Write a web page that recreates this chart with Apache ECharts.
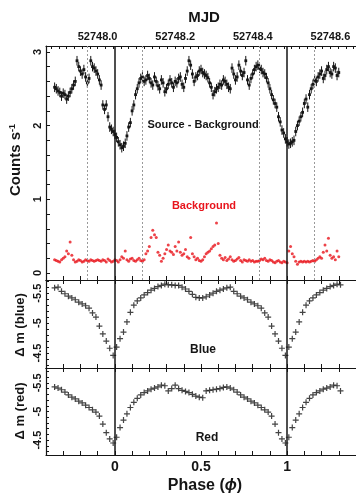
<!DOCTYPE html>
<html>
<head>
<meta charset="utf-8">
<script src="https://cdn.jsdelivr.net/npm/echarts@6/dist/echarts.min.js"></script>
<style>
html, body { margin: 0; padding: 0; background: #fff; }
#chart { width: 356px; height: 493px; }
</style>
</head>
<body>
<div id="chart"></div>
<script>
// source - background and background count rates, one bin every 0.01 in phase
const srcStart = -0.35;
const srcStep = 0.01;
const srcCounts = [
    2.52, 2.50, 2.47, 2.45, 2.40, 2.44, 2.42, 2.36, 2.40, 2.45,
    2.50, 2.55, 2.60, 2.88, 2.80, 2.74, 2.70, 2.76, 2.66, 2.58,
    2.64, 2.88, 2.80, 2.78, 2.74, 2.70, 2.62, 2.55, 2.28, 2.22,
    2.28, 2.12, 1.98, 1.95, 1.92, 1.88, 1.84, 1.78, 1.74, 1.70,
    1.72, 1.76, 1.86, 1.98, 2.04, 2.20, 2.28, 2.42, 2.50, 2.58,
    2.64, 2.66, 2.60, 2.62, 2.68, 2.64, 2.58, 2.55, 2.66, 2.60,
    2.54, 2.50, 2.62, 2.58, 2.46, 2.50, 2.56, 2.62, 2.58, 2.52,
    2.60, 2.58, 2.64, 2.66, 2.56, 2.52, 2.64, 2.74, 2.88, 2.82,
    2.70, 2.60, 2.66, 2.68, 2.74, 2.76, 2.72, 2.70, 2.68, 2.65,
    2.58, 2.52, 2.42, 2.46, 2.50, 2.52, 2.56, 2.55, 2.62, 2.60,
    2.56, 2.52, 2.50, 2.78, 2.70, 2.62, 2.66, 2.82, 2.74, 2.68,
    2.72, 2.88, 2.62, 2.55, 2.64, 2.70, 2.76, 2.80, 2.82, 2.78,
    2.76, 2.72, 2.70, 2.65, 2.58, 2.50, 2.42, 2.35, 2.30, 2.25,
    2.12, 2.05, 1.94, 1.90, 1.82, 1.78, 1.75, 1.76, 1.78, 1.80,
    1.92, 2.00, 2.06, 2.12, 2.18, 2.30, 2.36, 2.25, 2.42, 2.50,
    2.56, 2.62, 2.60, 2.66, 2.70, 2.74, 2.64, 2.68, 2.76, 2.80,
    2.72, 2.70, 2.80, 2.78, 2.68, 2.72
];
const srcErr = 0.065;
const bkgCounts = [
    0.18, 0.17, 0.16, 0.15, 0.18, 0.20, 0.22, 0.30, 0.26, 0.42,
    0.24, 0.18, 0.15, 0.16, 0.18, 0.17, 0.15, 0.16, 0.18, 0.17,
    0.16, 0.18, 0.17, 0.16, 0.17, 0.18, 0.17, 0.16, 0.18, 0.17,
    0.15, 0.19, 0.17, 0.15, 0.16, 0.18, 0.17, 0.15, 0.18, 0.22,
    0.20, 0.30, 0.18, 0.16, 0.19, 0.20, 0.17, 0.16, 0.18, 0.20,
    0.17, 0.16, 0.18, 0.26, 0.30, 0.36, 0.48, 0.58, 0.52, 0.48,
    0.28, 0.24, 0.16, 0.20, 0.26, 0.32, 0.38, 0.30, 0.28, 0.25,
    0.36, 0.30, 0.42, 0.28, 0.24, 0.26, 0.32, 0.22, 0.20, 0.48,
    0.26, 0.22, 0.18, 0.20, 0.17, 0.16, 0.18, 0.22, 0.26, 0.28,
    0.30, 0.33, 0.36, 0.38, 0.68, 0.40, 0.24, 0.20, 0.18, 0.21,
    0.17, 0.19, 0.22, 0.18, 0.16, 0.17, 0.19, 0.21, 0.17, 0.15,
    0.18, 0.17, 0.16, 0.18, 0.16, 0.17, 0.15, 0.16, 0.16, 0.17,
    0.19, 0.18, 0.20, 0.17, 0.16, 0.18, 0.17, 0.15, 0.14, 0.16,
    0.17, 0.15, 0.14, 0.16, 0.15, 0.14, 0.30, 0.36, 0.26, 0.22,
    0.16, 0.12, 0.15, 0.16, 0.15, 0.16, 0.15, 0.16, 0.15, 0.16,
    0.17, 0.16, 0.18, 0.20, 0.22, 0.20, 0.28, 0.38, 0.30, 0.47,
    0.24, 0.20, 0.22, 0.18, 0.30, 0.22
];

// folded optical light curves, phase 0.01 .. 0.99 every 0.02 (shown twice)
const foldStart = 0.01;
const foldStep = 0.02;
const blueMag = [
    -4.60, -4.74, -4.85, -5.02, -5.18, -5.30, -5.37, -5.42, -5.47, -5.51,
    -5.55, -5.58, -5.61, -5.63, -5.65, -5.64, -5.64, -5.63, -5.63, -5.60,
    -5.57, -5.53, -5.48, -5.43, -5.42, -5.42, -5.44, -5.47, -5.50, -5.53,
    -5.55, -5.57, -5.59, -5.60, -5.53, -5.49, -5.45, -5.42, -5.39, -5.35,
    -5.32, -5.29, -5.25, -5.17, -5.10, -4.95, -4.82, -4.70, -4.58, -4.46
];
const redMag = [
    -4.55, -4.72, -4.85, -4.96, -5.07, -5.16, -5.23, -5.29, -5.33, -5.36,
    -5.39, -5.41, -5.43, -5.46, -5.45, -5.36, -5.40, -5.46, -5.40, -5.37,
    -5.35, -5.33, -5.30, -5.27, -5.25, -5.24, -5.36, -5.37, -5.38, -5.39,
    -5.40, -5.42, -5.43, -5.41, -5.38, -5.34, -5.29, -5.25, -5.22, -5.18,
    -5.15, -5.11, -5.07, -5.03, -4.99, -4.92, -4.78, -4.63, -4.52, -4.45
];

// ticks and reference lines
const phaseLabels = [0, 0.5, 1];
const mjdLabels = [52748.0, 52748.2, 52748.4, 52748.6];
const countLabels = [0, 1, 2, 3];
const magLabels = [-5.5, -5, -4.5];
const eclipsePhases = [0, 1];
const dashPhases = [-0.16, 0.16, 0.84, 1.16];

const FONT = '"Liberation Sans", Arial, sans-serif';
const INK = '#151515';

function range(a, b, step) {
    const out = [];
    for (let v = a; v <= b + 1e-9; v += step) {
        out.push(Math.round(v * 1000) / 1000);
    }
    return out;
}

function fold(mags) {
    const pts = [];
    [-1, 0, 1].forEach(k => {
        mags.forEach((m, i) => {
            const p = foldStart + i * foldStep + k;
            if (p >= -0.35 && p <= 1.31) {
                pts.push([p, m]);
            }
        });
    });
    return pts;
}

function phaseAxis(gridIndex, position, withLabels) {
    return {
        type: 'value',
        gridIndex: gridIndex,
        position: position,
        min: -0.4,
        max: 1.4,
        interval: 0.1,
        splitLine: { show: false },
        axisLine: { onZero: false, lineStyle: { color: INK, width: 1.2 } },
        axisTick: { inside: true, length: 4, lineStyle: { color: INK } },
        axisLabel: {
            show: withLabels,
            customValues: phaseLabels,
            margin: 5,
            color: INK,
            fontFamily: FONT,
            fontWeight: 'bold',
            fontSize: 14,
            formatter: v => String(Math.round(v * 10) / 10)
        }
    };
}

function magAxis(gridIndex, min, max) {
    return {
        type: 'value',
        gridIndex: gridIndex,
        inverse: true,
        min: min,
        max: max,
        splitLine: { show: false },
        axisLine: { onZero: false, lineStyle: { color: INK, width: 1.2 } },
        axisTick: { inside: true, length: 3, customValues: range(-5.7, -4.3, 0.1), lineStyle: { color: INK } },
        axisLabel: {
            customValues: magLabels,
            rotate: 90,
            margin: 3,
            color: INK,
            fontFamily: FONT,
            fontWeight: 'bold',
            fontSize: 11,
            formatter: v => String(v)
        }
    };
}

const plusPath = 'path://M-0.8,-4H0.8V-0.8H4V0.8H0.8V4H-0.8V0.8H-4V-0.8H-0.8Z';

function vLines(values, style) {
    return values.map(v => ({ xAxis: v, lineStyle: style }));
}

const solidStyle = { color: INK, width: 1.5, type: 'solid' };
const dashStyle = { color: '#999', width: 1, type: [2, 2] };

const myChart = echarts.init(document.getElementById('chart'));

const option = {
    animation: false,
    grid: [
        { left: 46, top: 46, width: 316, height: 234 },
        { left: 46, top: 280, width: 316, height: 88 },
        { left: 46, top: 368, width: 316, height: 87 }
    ],
    xAxis: [
        phaseAxis(0, 'bottom', false),
        {
            type: 'value',
            gridIndex: 0,
            position: 'top',
            min: 52747.867,
            max: 52748.666,
            splitLine: { show: false },
            axisLine: { onZero: false, lineStyle: { color: INK, width: 1.2 } },
            axisTick: { inside: true, length: 3, customValues: range(52747.88, 52748.66, 0.02), lineStyle: { color: INK } },
            axisLabel: {
                customValues: mjdLabels,
                margin: 4,
                color: INK,
                fontFamily: FONT,
                fontWeight: 'bold',
                fontSize: 11,
                formatter: v => v.toFixed(1)
            }
        },
        phaseAxis(1, 'bottom', false),
        phaseAxis(1, 'top', false),
        phaseAxis(2, 'bottom', true),
        phaseAxis(2, 'top', false)
    ],
    yAxis: [
        {
            type: 'value',
            gridIndex: 0,
            min: -0.095,
            max: 3.08,
            splitLine: { show: false },
            axisLine: { onZero: false, lineStyle: { color: INK, width: 1.2 } },
            axisTick: { inside: true, length: 4, customValues: range(0, 3, 0.2), lineStyle: { color: INK } },
            axisLabel: {
                customValues: countLabels,
                rotate: 90,
                margin: 3,
                color: INK,
                fontFamily: FONT,
                fontWeight: 'bold',
                fontSize: 11
            }
        },
        magAxis(1, -5.72, -4.25),
        magAxis(2, -5.76, -4.24)
    ],
    series: [
        {
            type: 'custom',
            xAxisIndex: 0,
            yAxisIndex: 0,
            encode: { x: 0, y: 1 },
            data: srcCounts.map((v, i) => [srcStart + i * srcStep, v]),
            renderItem: function(params, api) {
                const x = api.value(0);
                const y = api.value(1);
                const c = api.coord([x, y]);
                const hi = api.coord([x, y + srcErr]);
                const lo = api.coord([x, y - srcErr]);
                return {
                    type: 'group',
                    children: [
                        { type: 'line', shape: { x1: c[0], y1: hi[1], x2: c[0], y2: lo[1] }, style: { stroke: INK, lineWidth: 1 } },
                        { type: 'rect', shape: { x: c[0] - 1.4, y: c[1] - 1.4, width: 2.8, height: 2.8 }, style: { fill: INK } }
                    ]
                };
            }
        },
        {
            type: 'scatter',
            xAxisIndex: 0,
            yAxisIndex: 0,
            symbol: 'circle',
            symbolSize: 3,
            itemStyle: { color: '#e8141c' },
            data: bkgCounts.map((v, i) => [srcStart + i * srcStep, v]),
            markLine: {
                silent: true,
                symbol: ['none', 'none'],
                label: { show: false },
                data: vLines(dashPhases, dashStyle).concat(vLines(eclipsePhases, solidStyle))
            }
        },
        {
            type: 'scatter',
            xAxisIndex: 2,
            yAxisIndex: 1,
            symbol: plusPath,
            symbolSize: 6,
            itemStyle: { color: INK },
            data: fold(blueMag),
            markLine: {
                silent: true,
                symbol: ['none', 'none'],
                label: { show: false },
                data: vLines(eclipsePhases, solidStyle)
            }
        },
        {
            type: 'scatter',
            xAxisIndex: 4,
            yAxisIndex: 2,
            symbol: plusPath,
            symbolSize: 6,
            itemStyle: { color: INK },
            data: fold(redMag),
            markLine: {
                silent: true,
                symbol: ['none', 'none'],
                label: { show: false },
                data: vLines(eclipsePhases, solidStyle)
            }
        }
    ],
    graphic: [
        {
            type: 'text', x: 204, y: 18,
            style: { text: 'MJD', fill: INK, font: 'bold 15px ' + FONT, textAlign: 'center', textVerticalAlign: 'middle' }
        },
        {
            type: 'text', x: 16, y: 160, rotation: Math.PI / 2,
            style: {
                text: '{a|Counts s}{b|-1}',
                fill: INK,
                textAlign: 'center',
                textVerticalAlign: 'middle',
                rich: {
                    a: { font: 'bold 15px ' + FONT, fill: INK },
                    b: { font: 'bold 9px ' + FONT, fill: INK, verticalAlign: 'top' }
                }
            }
        },
        {
            type: 'text', x: 20, y: 325, rotation: Math.PI / 2,
            style: { text: 'Δ m (blue)', fill: INK, font: 'bold 13px ' + FONT, textAlign: 'center', textVerticalAlign: 'middle' }
        },
        {
            type: 'text', x: 20, y: 411, rotation: Math.PI / 2,
            style: { text: 'Δ m (red)', fill: INK, font: 'bold 13px ' + FONT, textAlign: 'center', textVerticalAlign: 'middle' }
        },
        {
            type: 'text', x: 205, y: 486,
            style: {
                text: '{a|Phase (}{b|ϕ}{a|)}',
                textAlign: 'center',
                textVerticalAlign: 'middle',
                rich: {
                    a: { font: 'bold 16px ' + FONT, fill: INK },
                    b: { font: 'italic bold 16px ' + FONT, fill: INK }
                }
            }
        },
        {
            type: 'text', x: 203, y: 125,
            style: { text: 'Source - Background', fill: INK, font: 'bold 11px ' + FONT, textAlign: 'center', textVerticalAlign: 'middle' }
        },
        {
            type: 'text', x: 204, y: 206,
            style: { text: 'Background', fill: '#e8141c', font: 'bold 11px ' + FONT, textAlign: 'center', textVerticalAlign: 'middle' }
        },
        {
            type: 'text', x: 203, y: 350,
            style: { text: 'Blue', fill: INK, font: 'bold 12px ' + FONT, textAlign: 'center', textVerticalAlign: 'middle' }
        },
        {
            type: 'text', x: 207, y: 438,
            style: { text: 'Red', fill: INK, font: 'bold 12px ' + FONT, textAlign: 'center', textVerticalAlign: 'middle' }
        }
    ]
};

myChart.setOption(option);
</script>
</body>
</html>
